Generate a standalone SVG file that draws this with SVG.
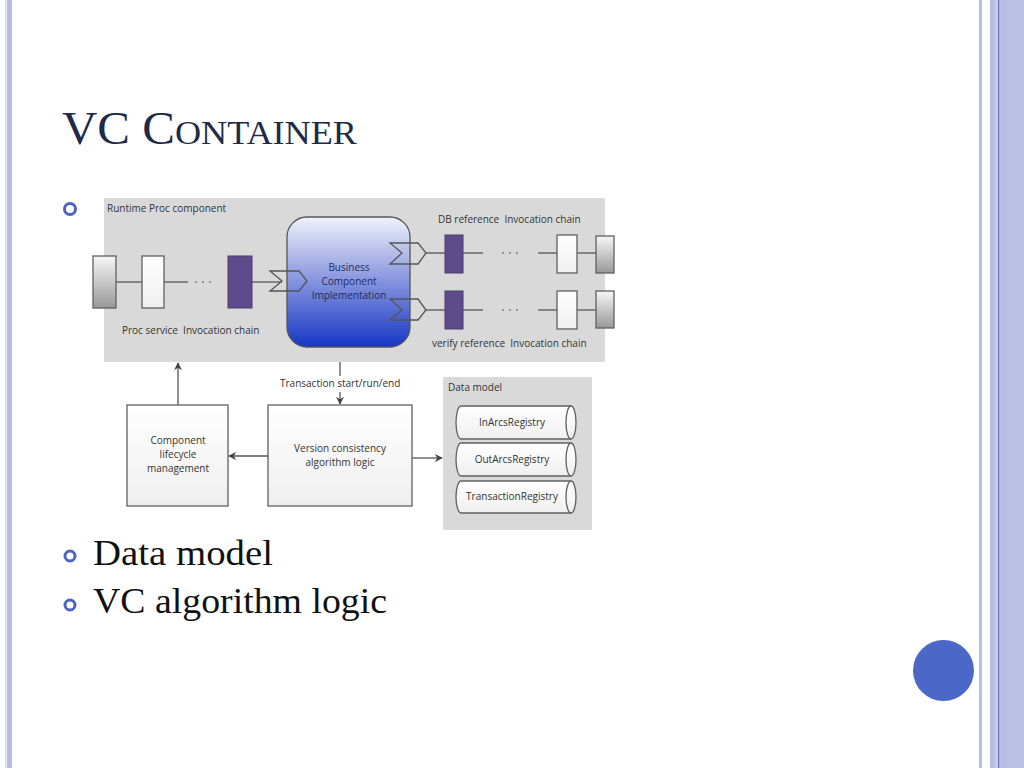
<svg xmlns="http://www.w3.org/2000/svg" width="1024" height="768" viewBox="0 0 1024 768">
<style>
.t{font-family:"Open Sans","Liberation Sans",sans-serif;font-size:10px;fill:#333}
.pre{white-space:pre}
.tc{text-anchor:middle}
.bt{font-family:"Open Sans","Liberation Sans",sans-serif;font-size:10px;fill:#1f2d5a;text-anchor:middle}
.ln{stroke:#555;stroke-width:1.3;fill:none}
.bx{stroke:#606060;stroke-width:1.3}
.pur{fill:#5e4b8b;stroke:#4a3d70;stroke-width:1}
.dot{fill:#777}
.bul{fill:none;stroke:#4a63c4;stroke-width:3}
.big{font-family:"Liberation Serif","Times New Roman",serif;fill:#111}
</style>
<defs>
<linearGradient id="gGray" x1="0" y1="0" x2="0" y2="1"><stop offset="0" stop-color="#f6f6f6"/><stop offset="1" stop-color="#999"/></linearGradient>
<linearGradient id="gWhite" x1="0" y1="0" x2="0" y2="1"><stop offset="0" stop-color="#fff"/><stop offset="1" stop-color="#efefef"/></linearGradient>
<linearGradient id="gBlue" x1="0" y1="0" x2="0" y2="1"><stop offset="0" stop-color="#f0f2fb"/><stop offset="0.45" stop-color="#8f9ce0"/><stop offset="1" stop-color="#1637c6"/></linearGradient>
<marker id="ah" viewBox="0 0 10 10" refX="9" refY="5" markerWidth="8" markerHeight="8" markerUnits="userSpaceOnUse" orient="auto"><path d="M0,0 L10,5 L0,10 L3,5 z" fill="#444"/></marker>
</defs>
<rect width="1024" height="768" fill="#fff"/>
<!-- borders -->
<rect x="5" y="0" width="1.5" height="768" fill="#d8dbef"/>
<rect x="7" y="0" width="5" height="768" fill="#b9bde2"/>
<rect x="979" y="0" width="3" height="768" fill="#b9bee4"/>
<rect x="990" y="0" width="34" height="768" fill="#b9bde2"/>
<rect x="995" y="0" width="3" height="768" fill="#c8cbea"/>
<rect x="998" y="0" width="1.2" height="768" fill="#6872c0"/>
<rect x="1007" y="0" width="17" height="768" fill="#bcc0e3"/>
<circle cx="943.5" cy="670.5" r="30.5" fill="#4b67c8"/>
<!-- title -->
<text x="62" y="144" font-family="Liberation Serif,Times New Roman,serif" fill="#1f2a48" textLength="295" lengthAdjust="spacingAndGlyphs"><tspan font-size="46">VC C</tspan><tspan font-size="34">ONTAINER</tspan></text>
<circle class="bul" cx="70" cy="209" r="5.5"/>
<circle class="bul" cx="70" cy="556" r="5" stroke-width="2.6"/>
<circle class="bul" cx="70" cy="605" r="5" stroke-width="2.6"/>
<text class="big" x="93" y="565" font-size="36" textLength="180" lengthAdjust="spacingAndGlyphs">Data model</text>
<text class="big" x="93" y="613" font-size="36" textLength="294" lengthAdjust="spacingAndGlyphs">VC algorithm logic</text>

<!-- containers -->
<g id="runtime">
<rect x="104" y="198" width="501" height="164" fill="#d9d9d9"/>
<text class="t" x="107" y="212">Runtime Proc component</text>
<text class="t pre" x="122" y="334">Proc service  Invocation chain</text>
<text class="t pre" x="438" y="223">DB reference  Invocation chain</text>
<text class="t pre" x="432" y="347">verify reference  Invocation chain</text>
</g>
<g id="datamodel">
<rect x="443" y="377" width="149" height="153" fill="#d9d9d9"/>
<text class="t" x="448" y="391">Data model</text>
</g>

<g id="connectors">
<line class="ln" x1="116" y1="282" x2="142" y2="282"/>
<line class="ln" x1="164" y1="282" x2="188" y2="282"/>
<circle class="dot" cx="196" cy="282" r="0.9"/><circle class="dot" cx="203" cy="282" r="0.9"/><circle class="dot" cx="210" cy="282" r="0.9"/>
<line class="ln" x1="252" y1="282" x2="282" y2="282"/>
<line class="ln" x1="426" y1="253" x2="445" y2="253"/>
<line class="ln" x1="463" y1="253" x2="483" y2="253"/>
<circle class="dot" cx="503" cy="253" r="0.9"/><circle class="dot" cx="510" cy="253" r="0.9"/><circle class="dot" cx="517" cy="253" r="0.9"/>
<line class="ln" x1="538" y1="253" x2="557" y2="253"/>
<line class="ln" x1="577" y1="253" x2="596" y2="253"/>
<line class="ln" x1="426" y1="310" x2="445" y2="310"/>
<line class="ln" x1="463" y1="310" x2="483" y2="310"/>
<circle class="dot" cx="503" cy="310" r="0.9"/><circle class="dot" cx="510" cy="310" r="0.9"/><circle class="dot" cx="517" cy="310" r="0.9"/>
<line class="ln" x1="538" y1="310" x2="557" y2="310"/>
<line class="ln" x1="577" y1="310" x2="596" y2="310"/>
<line class="ln" x1="178" y1="405" x2="178" y2="363" marker-end="url(#ah)"/>
<line class="ln" x1="268" y1="456" x2="229" y2="456" marker-end="url(#ah)"/>
<line class="ln" x1="412" y1="458" x2="442" y2="458" marker-end="url(#ah)"/>
<line class="ln" x1="340" y1="362" x2="340" y2="376"/>
<line class="ln" x1="340" y1="392" x2="340" y2="404" marker-end="url(#ah)"/>
<text class="t" x="280" y="387">Transaction start/run/end</text>
</g>

<g id="proc-service"><rect class="bx" x="93" y="256" width="23" height="52" fill="url(#gGray)"/></g>
<g id="proc-chain-1"><rect class="bx" x="142" y="256" width="22" height="52" fill="url(#gWhite)"/></g>
<g id="proc-chain-n"><rect class="pur" x="228" y="256" width="24" height="52"/></g>

<g id="business">
<rect x="287" y="217" width="123" height="130" rx="20" fill="url(#gBlue)" stroke="#555" stroke-width="1.3"/>
<text class="bt" x="349" y="271">Business</text>
<text class="bt" x="349" y="285">Component</text>
<text class="bt" x="349" y="299">Implementation</text>
<path class="ln" d="M270,271 H299 L307,281 L299,291 H270 L282,281 Z"/>
<path class="ln" d="M390,243 H418 L426,253 L418,264 H390 L402,253 Z"/>
<path class="ln" d="M390,299 H418 L426,310 L418,320 H390 L402,310 Z"/>
</g>

<g id="db-ref"><rect class="pur" x="445" y="235" width="18" height="38"/></g>
<g id="db-chain"><rect class="bx" x="557" y="235" width="20" height="38" fill="url(#gWhite)"/></g>
<g id="db-end"><rect class="bx" x="596" y="236" width="18" height="37" fill="url(#gGray)"/></g>
<g id="verify-ref"><rect class="pur" x="445" y="291" width="18" height="38"/></g>
<g id="verify-chain"><rect class="bx" x="557" y="291" width="20" height="38" fill="url(#gWhite)"/></g>
<g id="verify-end"><rect class="bx" x="596" y="291" width="18" height="37" fill="url(#gGray)"/></g>

<g id="lifecycle">
<rect class="bx" x="127" y="405" width="101" height="101" fill="url(#gWhite)"/>
<text class="t tc" x="178" y="444">Component</text>
<text class="t tc" x="178" y="458">lifecycle</text>
<text class="t tc" x="178" y="472">management</text>
</g>
<g id="vc-logic">
<rect class="bx" x="268" y="405" width="144" height="101" fill="url(#gWhite)"/>
<text class="t tc" x="340" y="452">Version consistency</text>
<text class="t tc" x="340" y="466">algorithm logic</text>
</g>

<g id="inarcs">
<path class="bx" d="M461,406 H571 A5,16.5 0 0 1 571,439 H461 A5,16.5 0 0 1 461,406 Z" fill="url(#gWhite)"/>
<path class="bx" d="M571,406 A5,16.5 0 0 0 571,439" fill="none"/>
<text class="t tc" x="512" y="426">InArcsRegistry</text>
</g>
<g id="outarcs">
<path class="bx" d="M461,443 H571 A5,16.5 0 0 1 571,476 H461 A5,16.5 0 0 1 461,443 Z" fill="url(#gWhite)"/>
<path class="bx" d="M571,443 A5,16.5 0 0 0 571,476" fill="none"/>
<text class="t tc" x="512" y="463">OutArcsRegistry</text>
</g>
<g id="transreg">
<path class="bx" d="M461,481 H571 A5,16 0 0 1 571,513 H461 A5,16 0 0 1 461,481 Z" fill="url(#gWhite)"/>
<path class="bx" d="M571,481 A5,16 0 0 0 571,513" fill="none"/>
<text class="t tc" x="512" y="500">TransactionRegistry</text>
</g>
</svg>
